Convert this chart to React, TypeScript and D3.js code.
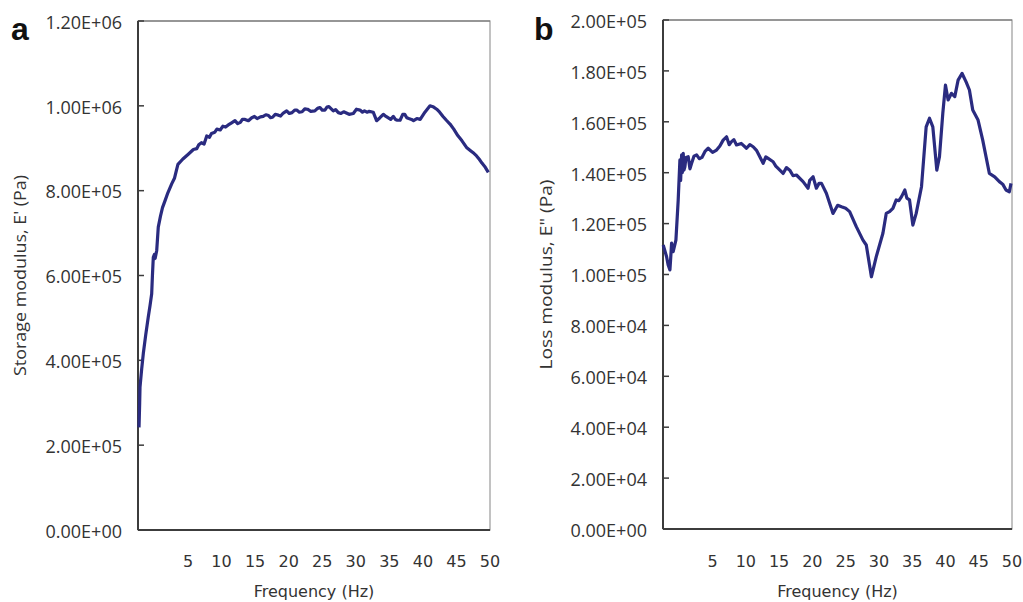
import React from "react";
import * as d3 from "d3";

// Panel a: storage modulus E' (Pa) vs frequency (Hz)
const freqA = [-2.3, -2.2, -2.15, -1.9, -1.66, -1.3, -0.92, -0.65, -0.41, -0.3, -0.17, 0.0, 0.1, 0.34, 0.57, 0.9, 1.2, 1.57, 2.0, 2.57, 3.0, 3.32, 3.5, 4.2, 5.04, 5.8, 6.3, 6.6, 7.0, 7.4, 7.79, 8.2, 8.5, 9.0, 9.3, 9.8, 10.2, 10.6, 11.0, 11.5, 12.0, 12.4, 12.8, 13.1, 13.5, 14.0, 14.5, 14.9, 15.3, 15.8, 16.2, 16.6, 17.0, 17.3, 17.6, 18.0, 18.46, 18.8, 19.2, 19.7, 20.1, 20.5, 20.9, 21.2, 21.6, 22.0, 22.4, 22.8, 23.3, 23.9, 24.3, 24.67, 25.0, 25.4, 25.7, 26.0, 26.65, 27.0, 27.4, 27.8, 28.2, 28.6, 29.0, 29.63, 30.1, 30.63, 31.0, 31.3, 31.7, 32.0, 32.6, 33.1, 33.6, 34.1, 34.5, 34.8, 35.2, 35.6, 35.9, 36.2, 36.6, 37.0, 37.3, 37.6, 37.9, 38.3, 38.6, 39.1, 39.6, 40.3, 41.06, 41.5, 42.06, 42.5, 43.0, 43.5, 44.04, 44.6, 45.2, 45.8, 46.5, 47.2, 47.6, 48.0, 48.4, 48.8, 49.3, 49.75];
const storageE = [242000, 300000, 337000, 380000, 416000, 460000, 502000, 530000, 557000, 600000, 643000, 650000, 640000, 659000, 714000, 740000, 760000, 776000, 795000, 816000, 830000, 851000, 862000, 874000, 886000, 897000, 899000, 908000, 913000, 910000, 929000, 926000, 935000, 938000, 945000, 943000, 952000, 950000, 955000, 960000, 965000, 958000, 961000, 968000, 968000, 965000, 972000, 975000, 970000, 974000, 975000, 979000, 977000, 972000, 973000, 980000, 978000, 976000, 983000, 988000, 982000, 984000, 990000, 990000, 985000, 986000, 993000, 992000, 987000, 988000, 994000, 996000, 990000, 990000, 997000, 998000, 988000, 991000, 984000, 982000, 986000, 983000, 980000, 982000, 992000, 990000, 985000, 988000, 985000, 987000, 985000, 965000, 972000, 980000, 975000, 972000, 968000, 975000, 968000, 966000, 966000, 980000, 980000, 972000, 970000, 968000, 965000, 970000, 968000, 985000, 1000000, 998000, 992000, 985000, 975000, 966000, 957000, 945000, 930000, 918000, 902000, 893000, 888000, 882000, 874000, 865000, 855000, 843000];

// Panel b: loss modulus E" (Pa) vs frequency (Hz)
const freqB = [-2.42, -1.91, -1.67, -1.41, -1.31, -1.16, -0.92, -0.51, -0.17, 0.09, 0.2, 0.35, 0.45, 0.59, 0.7, 0.84, 1.0, 1.34, 1.6, 1.85, 2.2, 2.6, 3.0, 3.4, 3.9, 4.34, 5.0, 5.6, 6.1, 6.59, 7.1, 7.5, 7.85, 8.2, 8.6, 9.3, 10.1, 10.6, 11.1, 11.6, 12.1, 12.6, 13.0, 13.35, 14.1, 14.5, 14.85, 15.6, 16.1, 16.6, 17.1, 17.6, 18.6, 19.35, 19.6, 20.1, 20.6, 21.0, 21.37, 22.1, 23.1, 23.8, 24.37, 25.0, 25.6, 26.6, 27.6, 28.1, 28.87, 29.6, 30.6, 31.1, 31.6, 32.1, 32.6, 33.0, 33.4, 33.9, 34.2, 34.6, 35.1, 35.6, 36.4, 37.1, 37.6, 38.1, 38.7, 39.1, 39.6, 40.0, 40.4, 40.9, 41.4, 41.9, 42.5, 43.1, 43.6, 44.1, 44.9, 45.6, 46.6, 47.4, 48.1, 48.6, 49.1, 49.6, 49.85];
const lossE = [111600, 107000, 103700, 101800, 105700, 112300, 109000, 113500, 129000, 145000, 137000, 147000, 140000, 147600, 141000, 142300, 146000, 146300, 141500, 143700, 146500, 147000, 145500, 146000, 148500, 149600, 148000, 148900, 150500, 152800, 154100, 151000, 152200, 153000, 150900, 151500, 149600, 151000, 150200, 148800, 146300, 143700, 146200, 145600, 144300, 142600, 141700, 139700, 142000, 141000, 138800, 139100, 136500, 133900, 137000, 138400, 133900, 135800, 135800, 131900, 124000, 127200, 126600, 126000, 124700, 118800, 113500, 111600, 99100, 107000, 116200, 124000, 124700, 126000, 129300, 129000, 130600, 133200, 130000, 129300, 119400, 124000, 134500, 158000, 161400, 158000, 141000, 146300, 163300, 174400, 168600, 171200, 169900, 176400, 179000, 175700, 172500, 164600, 160700, 152800, 139700, 138400, 136500, 135500, 133200, 132500, 135800];

const xTicks = [5, 10, 15, 20, 25, 30, 35, 40, 45, 50];
const yTicksA = [0, 200000, 400000, 600000, 800000, 1000000, 1200000];
const yTicksB = [0, 20000, 40000, 60000, 80000, 100000, 120000, 140000, 160000, 180000, 200000];

const fmtE = (v: number) => {
  const s = v.toExponential(2).toUpperCase();
  const [m, e] = s.split("E");
  const sign = e[0];
  const digits = e.slice(1).padStart(2, "0");
  return `${m}E${sign}${digits}`;
};

const LINE = "#2a2b80";
const TXT = "#333333";
const LABEL_FONT = "'Open Sans', sans-serif";
const X_FONT = "'DejaVu Sans', sans-serif";

type PanelProps = {
  left: number; right: number; top: number; bottom: number;
  xs: number[]; ys: number[]; yTicks: number[]; yMax: number;
  title: string; titleX: number; titleLen: number; letter: string; letterX: number;
};

function Panel(p: PanelProps) {
  const x = d3.scaleLinear().domain([-2.45, 50]).range([p.left, p.right]);
  const y = d3.scaleLinear().domain([0, p.yMax]).range([p.bottom, p.top]);
  const pts = p.xs.map((f, i) => [f, p.ys[i]] as [number, number]);
  const line = d3.line<[number, number]>().x(d => x(d[0])).y(d => y(d[1]));
  const midY = (p.top + p.bottom) / 2;
  return (
    <g>
      <rect x={p.left} y={p.top} width={p.right - p.left} height={p.bottom - p.top} fill="white" stroke="#9a9a9a" strokeWidth={1.2} />
      <line x1={p.left} x2={p.right} y1={p.top} y2={p.top} stroke="#6a6a6a" strokeWidth={1.2} />
      <line x1={p.left} x2={p.left} y1={p.top} y2={p.bottom} stroke="#3c3c3c" strokeWidth={2} />
      <line x1={p.left} x2={p.right} y1={p.bottom} y2={p.bottom} stroke="#3c3c3c" strokeWidth={2} />
      {p.yTicks.map(t => (
        <g key={t}>
          <line x1={p.left} x2={p.left + 6} y1={y(t)} y2={y(t)} stroke="#3c3c3c" strokeWidth={1.5} />
          <text x={p.left - 16} y={y(t) + 3} textAnchor="end" dominantBaseline="middle" fontFamily={LABEL_FONT} fontSize={18} fill={TXT}>{fmtE(t)}</text>
        </g>
      ))}
      {xTicks.map(t => (
        <text key={t} x={x(t)} y={562} textAnchor="middle" dominantBaseline="middle" fontFamily={X_FONT} fontSize={16} fill={TXT}>{t}</text>
      ))}
      <text x={(p.left + p.right) / 2} y={592} textAnchor="middle" dominantBaseline="middle" fontFamily={X_FONT} fontSize={16} fill={TXT}>Frequency (Hz)</text>
      <text transform={`translate(${p.titleX},${midY}) rotate(-90)`} textAnchor="middle" dominantBaseline="middle" fontFamily={LABEL_FONT} fontSize={16.5} fill={TXT} textLength={p.titleLen} lengthAdjust="spacingAndGlyphs">{p.title}</text>
      <text x={p.letterX} y={40} fontFamily="'Liberation Sans', Arial, sans-serif" fontWeight="bold" fontSize={32} fill="#111">{p.letter}</text>
      <path d={line(pts) || ""} fill="none" stroke={LINE} strokeWidth={3.2} strokeLinejoin="round" />
    </g>
  );
}

export default function App() {
  return (
    <svg width={1023} height={602} style={{ position: "absolute", left: 0, top: 0, background: "white" }}>
      <rect width={1023} height={602} fill="white" />
      <Panel left={138} right={490} top={21} bottom={530} xs={freqA} ys={storageE} yTicks={yTicksA} yMax={1200000}
        title="Storage modulus, E' (Pa)" titleX={22} titleLen={201} letter="a" letterX={11} />
      <Panel left={663} right={1012} top={20} bottom={529} xs={freqB} ys={lossE} yTicks={yTicksB} yMax={200000}
        title={'Loss modulus, E" (Pa)'} titleX={548} titleLen={190} letter="b" letterX={534} />
    </svg>
  );
}
